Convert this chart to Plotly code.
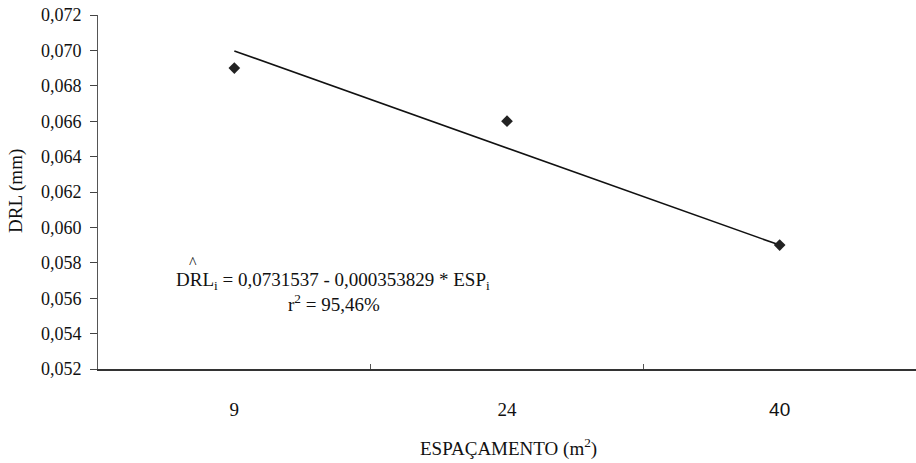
import plotly.graph_objects as go

categories = ["9", "24", "40"]
esp_values = [9, 24, 40]
drl_values = [0.069, 0.066, 0.059]
intercept = 0.0731537
slope = -0.000353829
y_ticks = [0.052, 0.054, 0.056, 0.058, 0.060, 0.062, 0.064, 0.066, 0.068, 0.070, 0.072]
y_ticklabels = [f"{v:.3f}".replace(".", ",") for v in y_ticks]

fit_x = [categories[0], categories[-1]]
fit_y = [intercept + slope * esp_values[0], intercept + slope * esp_values[-1]]

serif = "Liberation Serif"

W, H = 916, 463
PL, PR, PT, PB = 98, 916, 15, 369
PW, PH = PR - PL, PB - PT


def px(x):
    return (x - PL) / PW


def py(y):
    return (PB - y) / PH


fig = go.Figure()
fig.add_trace(go.Scatter(x=fit_x, y=fit_y, mode="lines",
                         line=dict(color="#111111", width=1.6), showlegend=False))
fig.add_trace(go.Scatter(x=categories, y=drl_values, mode="markers",
                         marker=dict(symbol="diamond", size=9, color="#222222"),
                         showlegend=False))

fig.update_layout(
    width=W, height=H,
    margin=dict(l=PL, r=W - PR, t=PT, b=H - PB, pad=0),
    paper_bgcolor="white", plot_bgcolor="white",
    font=dict(family=serif, size=19, color="#111111"),
    xaxis=dict(
        type="category", categoryorder="array", categoryarray=categories,
        tickson="boundaries", ticks="inside", ticklen=5, tickcolor="#555555",
        showline=True, linecolor="#333333", linewidth=1.5,
        showgrid=False, zeroline=False, ticklabelstandoff=22,
        tickvals=categories,
        ticktext=["9", "24", '<span style="font-family:Liberation Sans">40</span>'],
        tickfont=dict(size=19),
        range=[-0.5, 2.5],
    ),
    yaxis=dict(
        range=[0.052, 0.072], tickvals=y_ticks, ticktext=y_ticklabels,
        ticks="outside", ticklen=7, tickcolor="#444444",
        showline=True, linecolor="#555555", linewidth=1,
        showgrid=False, zeroline=False, ticklabelstandoff=5,
        ticklabeloverflow="allow",
        tickfont=dict(size=18),
    ),
    annotations=[
        dict(text="DRL (mm)", textangle=-90, xref="paper", yref="paper",
             x=px(16), y=py(191), xanchor="center", yanchor="middle",
             showarrow=False, font=dict(size=19)),
        dict(text="ESPAÇAMENTO (m<sup>2</sup>)", xref="paper", yref="paper",
             x=px(508), y=py(447), xanchor="center", yanchor="middle",
             showarrow=False, font=dict(size=19)),
        dict(text="DRL<sub>i</sub> = 0,0731537 - 0,000353829 * ESP<sub>i</sub>",
             xref="paper", yref="paper",
             x=px(333), y=py(281), xanchor="center", yanchor="middle",
             showarrow=False, font=dict(size=19)),
        dict(text="^", xref="paper", yref="paper",
             x=px(193), y=py(262), xanchor="center", yanchor="middle",
             showarrow=False, font=dict(size=16)),
        dict(text="r<sup>2</sup> = 95,46%", xref="paper", yref="paper",
             x=px(334), y=py(303), xanchor="center", yanchor="middle",
             showarrow=False, font=dict(size=19)),
    ],
)

fig.write_html("out.html", config={"displayModeBar": False},
               post_script="document.body.style.margin='0';")
